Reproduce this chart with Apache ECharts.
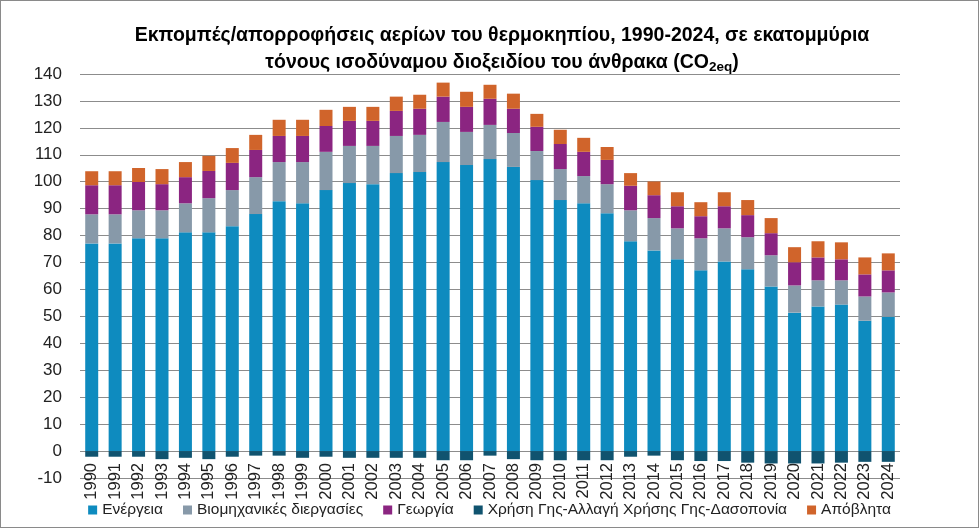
<!DOCTYPE html>
<html>
<head>
<meta charset="utf-8">
<script src="https://cdn.jsdelivr.net/npm/echarts@6/dist/echarts.min.js"></script>
<style>
html,body{margin:0;padding:0;background:#fff;}
#wrap{width:979px;height:528px;box-sizing:border-box;border:1px solid #8a8a8a;position:relative;}
#chart{position:absolute;left:-1px;top:-1px;width:979px;height:528px;}
</style>
</head>
<body>
<div id="wrap"><div id="chart"></div></div>
<script>
const years = ['1990','1991','1992','1993','1994','1995','1996','1997','1998','1999','2000','2001','2002','2003','2004','2005','2006','2007','2008','2009','2010','2011','2012','2013','2014','2015','2016','2017','2018','2019','2020','2021','2022','2023','2024'];
const energy = [77.1,77.1,79.0,79.0,81.2,81.2,83.5,88.0,92.8,92.0,96.9,99.5,99.1,103.2,103.6,107.3,106.2,108.4,105.5,100.6,93.2,92.0,88.3,77.9,74.5,71.2,67.1,70.4,67.5,61.1,51.4,53.7,54.4,48.4,49.9];
const industry = [10.8,10.8,10.4,10.4,10.8,12.7,13.4,13.7,14.5,15.3,14.2,13.8,14.2,13.8,13.8,14.9,12.3,12.7,12.6,10.8,11.5,10.1,10.8,11.5,12.0,11.5,11.9,12.3,11.9,11.6,10.1,9.7,9.0,9.0,9.0];
const agriculture = [10.8,10.8,10.5,9.7,9.7,10.1,10.1,10.1,9.7,9.7,9.6,9.3,9.3,9.3,9.7,9.4,9.3,9.7,9.0,9.0,9.3,9.0,9.0,9.1,8.5,8.2,8.2,8.2,8.2,8.2,8.6,8.5,7.8,8.2,8.2];
const lulucf = [-2.1,-2.1,-2.1,-3.0,-2.5,-3.0,-2.1,-1.7,-1.7,-2.5,-2.1,-2.5,-2.5,-2.5,-2.5,-3.4,-3.4,-1.7,-3.0,-3.4,-3.4,-3.4,-3.4,-2.1,-1.7,-3.4,-3.7,-3.7,-4.3,-4.6,-4.6,-4.6,-4.3,-4.0,-4.0];
const waste = [5.2,5.2,5.2,5.6,5.6,5.6,5.5,5.6,6.0,6.0,6.0,5.2,5.2,5.3,5.2,5.2,5.6,5.2,5.6,4.8,5.3,5.2,4.8,4.7,5.1,5.2,5.2,5.2,5.6,5.6,5.6,6.0,6.3,6.3,6.3];
const seriesNames = ['Ενέργεια','Βιομηχανικές διεργασίες','Γεωργία','Χρήση Γης-Αλλαγή Χρήσης Γης-Δασοπονία','Απόβλητα'];
const colors = ['#0e8bbf','#8799a9','#8b2581','#10536f','#d0642b'];
const yTicks = {min:-10,max:140,interval:10};

const FONT = '"Liberation Sans", Arial, sans-serif';
const chart = echarts.init(document.getElementById('chart'));
const datasets = [energy, industry, agriculture, lulucf, waste];
chart.setOption({
  animation:false,
  backgroundColor:'transparent',
  title:{
    left:497, top:17, textAlign:'center',
    text:'{a|Εκπομπές/απορροφήσεις αερίων του θερμοκηπίου, 1990-2024, σε εκατομμύρια}\n{a|τόνους ισοδύναμου διοξειδίου του άνθρακα (CO}{s|2eq}{a|)}',
    textStyle:{
      rich:{
        a:{fontFamily:FONT,fontWeight:'bold',fontSize:19.5,color:'#000',lineHeight:27},
        s:{fontFamily:FONT,fontWeight:'bold',fontSize:13.5,color:'#000',lineHeight:27,padding:[10,0,0,0]}
      }
    }
  },
  legend:{
    bottom:5, left:'center',
    itemWidth:9,itemHeight:9,itemGap:20,
    icon:'rect',
    textStyle:{fontFamily:FONT,fontSize:15.5,color:'#222'},
    data:seriesNames
  },
  grid:{left:80,right:79,top:74,bottom:50,containLabel:false},
  xAxis:{
    type:'category',data:years,
    axisLine:{show:false},
    axisTick:{show:false},
    axisLabel:{rotate:90,fontFamily:FONT,fontSize:16.5,color:'#222',margin:-15,interval:0}
  },
  yAxis:{
    type:'value',min:yTicks.min,max:yTicks.max,interval:yTicks.interval,
    axisLine:{show:false},axisTick:{show:false},
    splitLine:{lineStyle:{color:'#8c8c8c',width:1}},
    axisLabel:{fontFamily:FONT,fontSize:17,color:'#222',margin:18}
  },
  series: datasets.map((d,i)=>({
    name:seriesNames[i],type:'bar',stack:'total',data:d,
    barWidth:13,
    itemStyle:{color:colors[i]}
  }))
});
</script>
</body>
</html>
